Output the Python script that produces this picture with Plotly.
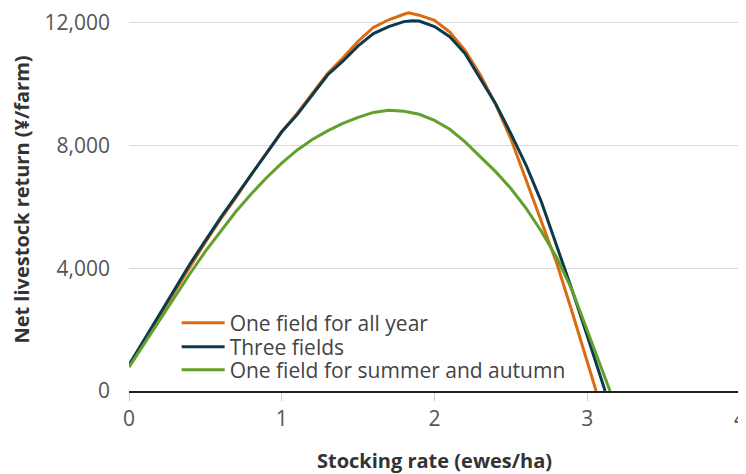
import plotly.graph_objects as go

one_field_x = [0.0, 0.1, 0.2, 0.3, 0.4, 0.5, 0.6, 0.7, 0.8, 0.9, 1.0, 1.1, 1.2, 1.3, 1.4, 1.5,
               1.6, 1.7, 1.8, 1.83, 1.9, 2.0, 2.1, 2.2, 2.3, 2.4, 2.5, 2.6, 2.7, 2.8, 2.9, 3.0, 3.058]
one_field_all_year = [830, 1650, 2450, 3250, 4050, 4850, 5600, 6300, 7050, 7750, 8450, 9050, 9700,
                      10350, 10850, 11400, 11850, 12100, 12280, 12330, 12250, 12080, 11700, 11100,
                      10300, 9350, 8220, 6890, 5520, 4170, 2590, 950, 0]

three_x = [0.0, 0.1, 0.2, 0.3, 0.4, 0.5, 0.6, 0.7, 0.8, 0.9, 1.0, 1.1, 1.2, 1.3, 1.4, 1.5,
           1.6, 1.7, 1.8, 1.85, 1.9, 2.0, 2.1, 2.2, 2.3, 2.4, 2.5, 2.6, 2.7, 2.75, 2.8, 2.9, 3.0, 3.1, 3.117]
three_fields = [850, 1680, 2520, 3350, 4150, 4900, 5650, 6350, 7050, 7750, 8450, 9000, 9650,
                10300, 10750, 11250, 11650, 11880, 12040, 12070, 12060, 11880, 11550, 11000, 10180,
                9360, 8390, 7355, 6160, 5450, 4740, 3300, 1800, 260, 0]

green_x = [0.0, 0.1, 0.2, 0.3, 0.4, 0.5, 0.6, 0.7, 0.8, 0.9, 1.0, 1.1, 1.2, 1.3, 1.4, 1.5,
           1.6, 1.7, 1.8, 1.9, 2.0, 2.1, 2.2, 2.3, 2.4, 2.5, 2.6, 2.7, 2.8, 2.9, 3.0, 3.1, 3.149]
one_field_summer_autumn = [780, 1550, 2330, 3090, 3830, 4550, 5220, 5850, 6420, 6950, 7430, 7850,
                           8200, 8480, 8720, 8920, 9080, 9150, 9120, 9020, 8820, 8530, 8120, 7650,
                           7150, 6600, 5950, 5200, 4350, 3300, 2000, 650, 0]

y_ticks = [0, 4000, 8000, 12000]
y_tick_text = ["0", "4,000", "8,000", "12,000"]
x_ticks = [0, 1, 2, 3, 4]

ORANGE = "#DB6A12"
NAVY = "#0B3A4C"
GREEN = "#62A02B"

fig = go.Figure()
fig.add_trace(go.Scatter(x=one_field_x, y=one_field_all_year, mode="lines", legend="legend",
                         name="One field for all year", line=dict(color=ORANGE, width=3)))
fig.add_trace(go.Scatter(x=three_x, y=three_fields, mode="lines", legend="legend2",
                         name="Three fields", line=dict(color=NAVY, width=3)))
fig.add_trace(go.Scatter(x=green_x, y=one_field_summer_autumn, mode="lines", legend="legend3",
                         name="One field for summer and autumn", line=dict(color=GREEN, width=3)))

legend_common = dict(x=0.078, xanchor="left", yanchor="middle", bgcolor="rgba(0,0,0,0)",
                     font=dict(size=21, color="#444"), itemwidth=43)

fig.update_layout(
    width=738, height=466,
    margin=dict(l=121, r=2, t=0, b=83),
    paper_bgcolor="white", plot_bgcolor="white",
    font=dict(family="Open Sans", color="#444", size=20),
    legend=dict(y=0.1775, **legend_common),
    legend2=dict(y=0.1149, **legend_common),
    legend3=dict(y=0.0548, **legend_common),
    showlegend=True,
)
fig.update_xaxes(
    range=[0, 4], tickvals=x_ticks, showgrid=False, zeroline=False,
    showline=True, linecolor="#222", linewidth=1.5,
    ticks="outside", ticklen=8, tickcolor="#ccc", tickwidth=1,
    ticklabeloverflow="allow",
    tickfont=dict(size=21, color="#555"),
    title=dict(text="<b>Stocking rate (ewes/ha)</b>", font=dict(size=20, color="#333"), standoff=25),
)
fig.update_yaxes(
    range=[0, 12484], tickvals=y_ticks, ticktext=y_tick_text,
    showgrid=True, gridcolor="#d9d9d9", gridwidth=1.2, zeroline=False, showline=False,
    ticks="", ticklabelstandoff=18,
    tickfont=dict(size=21, color="#555"),
    title=dict(text="<b>Net livestock return (¥/farm)</b>", font=dict(size=20, color="#333"), standoff=14),
)

fig.write_html("out.html")
